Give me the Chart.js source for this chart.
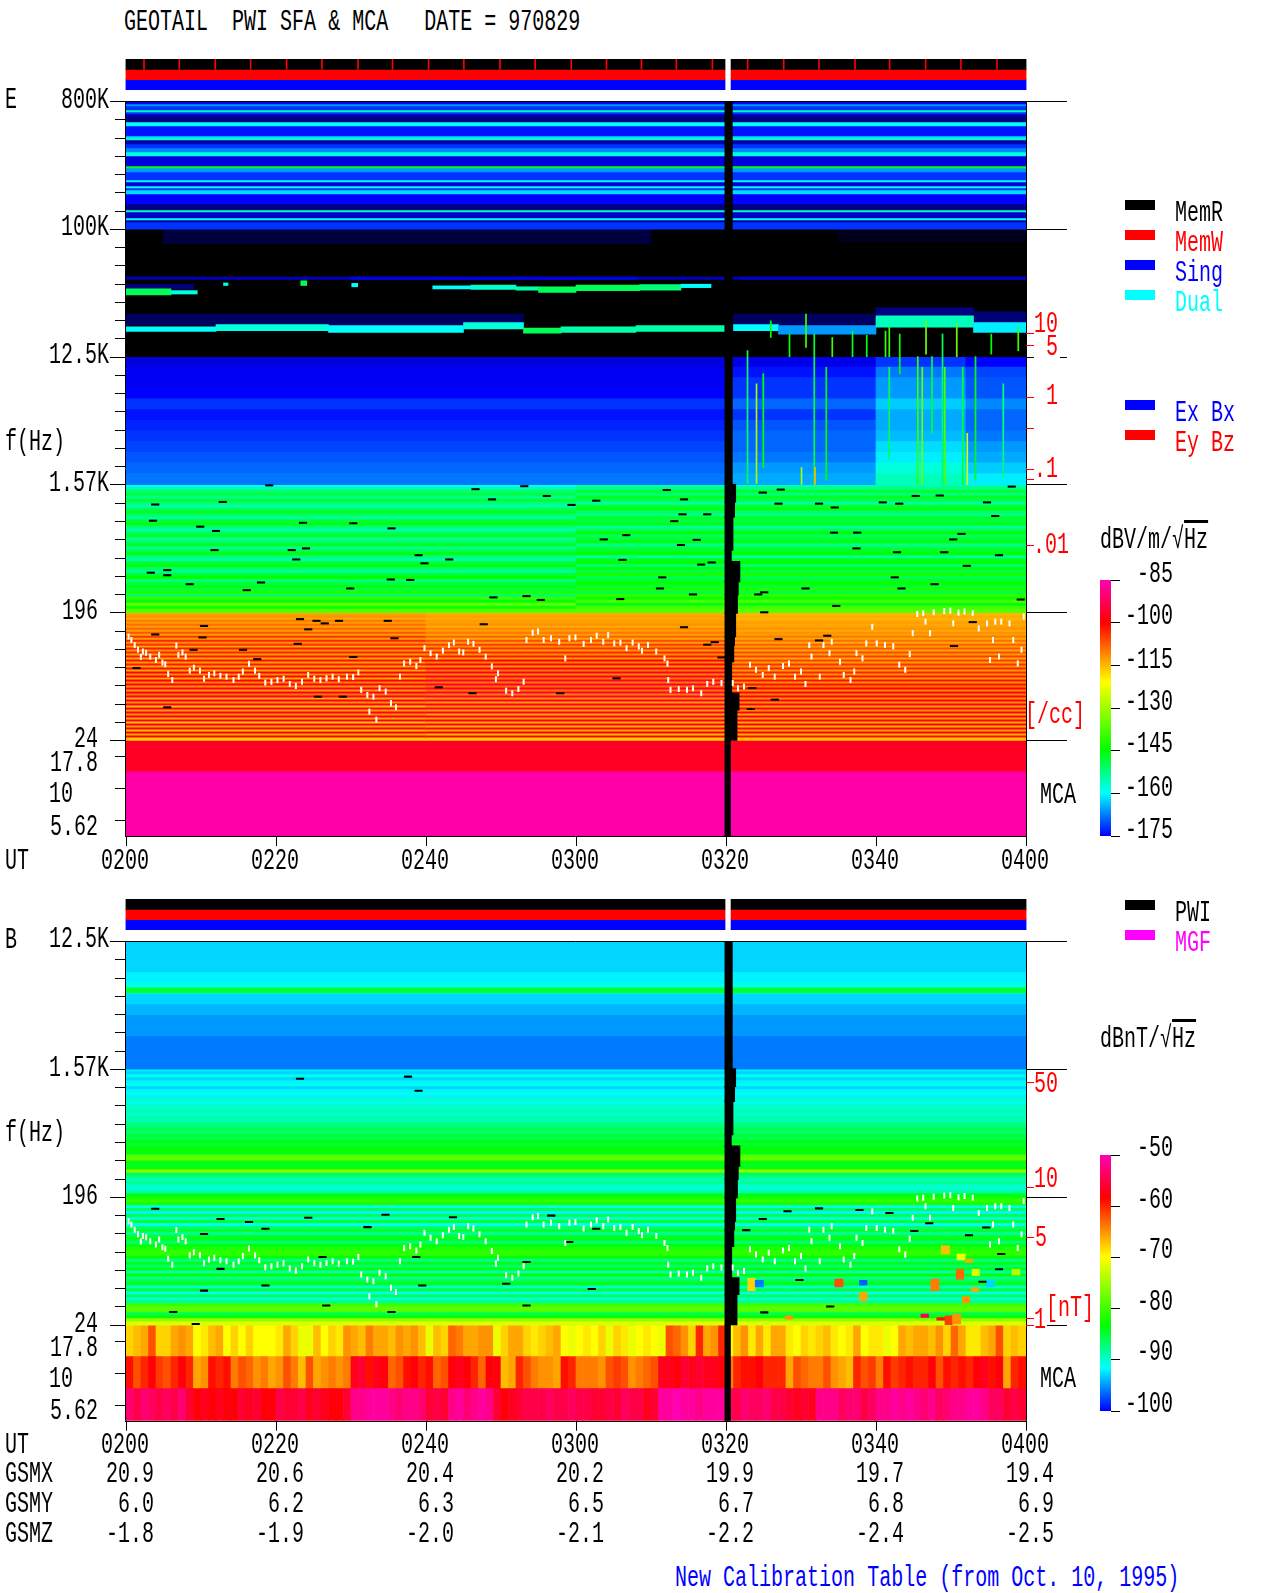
<!DOCTYPE html>
<html>
<head>
<meta charset="UTF-8">
<title>GEOTAIL PWI SFA & MCA 970829</title>
<script src="https://cdn.jsdelivr.net/npm/chart.js"></script>
<style>
  body { margin: 0; background: #fff; }
  #page { position: relative; width: 1280px; height: 1593px; overflow: hidden; }
  canvas { position: absolute; left: 0; }
  .t { position: absolute; font: 30px/30px "Liberation Mono", monospace; white-space: pre; z-index: 5; }
  .sw { position: absolute; width: 30px; height: 10px; }
  .over { text-decoration: overline; }
</style>
</head>
<body>
<div id="page"></div>
<script>
// y axis is in octaves below 800 kHz, 3 octaves per labelled band, MCA channels below 15
const utMinutes = [0, 20, 40, 60, 80, 100, 120];
const utLabels = ['0200', '0220', '0240', '0300', '0320', '0340', '0400'];
const gsmx = ['20.9', '20.6', '20.4', '20.2', '19.9', '19.7', '19.4'];
const gsmy = ['6.0', '6.2', '6.3', '6.5', '6.7', '6.8', '6.9'];
const gsmz = ['-1.8', '-1.9', '-2.0', '-2.1', '-2.2', '-2.4', '-2.5'];
const majorOct = [0, 3, 6, 9, 12, 15];
const mcaOct = [15.375, 16.125, 16.875];

const statusSpans = [[0, 79.85], [80.65, 120]];
const memrMarks = [2.4, 7.1, 11.9, 16.6, 21.4, 26.1, 30.9, 35.5, 40.3, 45, 49.8, 54.5, 59.3, 64, 68.65, 73.3, 78.1, 82.8, 87.6, 92.3, 97.1, 101.7, 106.5, 111.2, 116];

// density ticks, red
const eDensityOct = [5.44, 5.72, 6.94, 7.67, 8.63, 8.87, 10.43];
const bFieldOct = [9.3, 11.78, 12.95, 14.83, 15];

// E 800K-100K stripes
const eHighLevels = [-176, -176, -166, -172, -172, -155, -172, -180, -186, -186, -186, -160, -160, -174, -174, -174, -174, -174, -162, -156, -182, -182, -172, -172, -167, -167, -158, -158, -178, -178, -178, -178, -178, -146, -166, -166, -172, -172, -172, -172, -160, -178, -178, -160, -172, -162, -162, -175, -175, -175, -175, -175, -186, -186, -186, -156, -180, -180, -180, -160, -184, -172, -172, -172];

// E 100K-12.5K: t0, t1, top, bottom, level
const eMidPatches = [
  [0, 120, 3, 6, -200],
  [5, 70, 3.03, 3.35, -192], [95, 120, 3.03, 3.3, -195],
  [0, 120, 4.13, 4.19, -181], [30, 68, 4.13, 4.19, -177], [82, 120, 4.13, 4.19, -180],
  [0, 53, 5.0, 5.26, -189], [81, 100, 5.0, 5.26, -189], [100, 113, 4.85, 5.05, -186], [113, 120, 4.95, 5.2, -187],
  [0, 9, 4.31, 4.41, -186],
  [0, 6, 4.41, 4.55, -150], [6, 9.5, 4.45, 4.53, -158],
  [13, 13.6, 4.27, 4.33, -158], [23.3, 24.1, 4.22, 4.33, -150], [30.1, 30.9, 4.28, 4.36, -160],
  [40.9, 46, 4.34, 4.41, -160], [46, 52, 4.32, 4.42, -157], [52, 55, 4.36, 4.44, -155], [55, 60, 4.36, 4.49, -150],
  [60, 68.5, 4.32, 4.45, -150], [68.5, 74, 4.31, 4.44, -152], [74, 78, 4.3, 4.38, -160],
  [0, 12, 5.3, 5.41, -160], [12, 27, 5.25, 5.39, -158], [27, 45, 5.27, 5.43, -160], [45, 53, 5.2, 5.35, -158],
  [53, 58, 5.33, 5.45, -150], [58, 68, 5.3, 5.43, -155], [68, 79.8, 5.27, 5.41, -155], [81, 87, 5.25, 5.39, -160],
  [87, 100, 5.27, 5.47, -166], [100, 113, 5.04, 5.31, -156], [113, 120, 5.2, 5.43, -161]
];

// E 12.5K-1.57K, rows by time block
const eNoiseBlocks = [[0, 80], [80, 100], [100, 112], [112, 120]];
const eNoiseA = [-178, -176, -176, -175, -172, -174, -173, -172, -171, -170, -169, -168];
const eNoiseB = [-177, -174, -172, -172, -169, -172, -170, -169, -169, -168, -166, -165];
const eNoiseC = [-172, -168, -166, -166, -163, -165, -165, -164, -162, -161, -158, -156];
const eNoiseD = [-175, -171, -170, -170, -167, -169, -169, -168, -166, -165, -163, -161];

// spikes: time, top, bottom, level
const eSpikes = [
  [82.8, 5.86, 8.98, -150], [84, 6.64, 8.98, -130], [84.9, 6.4, 8.6, -145], [85.9, 5.16, 5.55, -145], [88.4, 5.47, 6, -145],
  [90.6, 5, 5.78, -140], [91.7, 5.47, 9, -148], [91.8, 8.6, 9, -115], [93.3, 6.25, 8.9, -145], [94.1, 5.55, 6, -140],
  [90, 8.6, 9, -130], [96.8, 5.4, 6, -148], [98.7, 5.5, 6, -145], [101.2, 5.4, 6, -140], [101.7, 5.31, 6, -140], [101.7, 6.25, 8.4, -150],
  [103.1, 5.47, 6.4, -145], [105.5, 6, 9, -140], [106.1, 6.25, 9, -135], [106.6, 5.16, 5.94, -135], [107.4, 6, 7.8, -148],
  [108.8, 5.47, 9, -150], [109.1, 6.25, 9, -138], [110.7, 5.23, 6, -135], [111.5, 6.25, 9, -148], [112.1, 7.8, 9, -125],
  [113.2, 6, 8.9, -145], [115.3, 5.47, 5.94, -145], [116.9, 6.64, 8.84, -152], [118.9, 5.31, 5.86, -140]
];

// E 1.57K-196
const eGreenLeft = [-160, -155, -152, -149, -153, -148, -152, -155, -150, -147, -151, -154, -148, -146, -152, -155, -150, -147, -154, -151, -147, -153, -150, -146, -152, -155, -148, -146, -151, -154, -148, -145, -152, -149, -146, -149, -142, -151, -140, -146, -136, -144, -137];
const eGreenRight = [-155, -153, -148, -152, -147, -150, -154, -148, -146, -151, -153, -147, -149, -146, -154, -150, -145, -151, -148, -146, -153, -149, -147, -145, -154, -147, -145, -151, -146, -149, -143, -150, -147, -144, -148, -142, -149, -141, -144, -138, -146, -139, -137];

// E 196-24, three time blocks
const eOrangeA = [-114, -113, -112, -114, -110, -113, -109, -113, -108, -113, -107, -113, -104, -113, -103, -112, -104, -114, -102, -112, -103, -113, -102, -114, -101, -113, -102, -113, -101, -114, -100, -112, -99, -114, -100, -111, -98, -112, -97, -113, -98, -110, -96, -114, -98, -112, -97, -116, -99, -113, -97, -112, -98, -114, -97, -116, -98, -113, -99, -116, -100, -114, -100, -117];
const eOrangeB = [-115, -114, -113, -114, -113, -113, -112, -114, -111, -113, -110, -113, -108, -114, -106, -113, -105, -112, -104, -113, -103, -112, -102, -113, -100, -111, -99, -112, -98, -110, -97, -111, -97, -110, -96, -110, -96, -109, -97, -110, -95, -111, -96, -112, -96, -113, -97, -112, -96, -113, -97, -114, -97, -113, -98, -114, -98, -115, -99, -114, -100, -116, -100, -117];
const eOrangeC = [-115, -115, -114, -115, -114, -113, -114, -113, -112, -114, -112, -113, -110, -114, -109, -114, -108, -113, -107, -114, -106, -113, -105, -114, -105, -113, -104, -112, -103, -113, -103, -112, -102, -113, -101, -112, -101, -110, -100, -112, -99, -111, -99, -112, -98, -112, -98, -113, -98, -112, -99, -114, -98, -113, -99, -114, -100, -115, -99, -113, -100, -115, -101, -116];

const eMcaLevels = [-97, -86, -86];

// E dropouts: time, oct
const eDropouts = [
  [3.9, 9.47], [12.9, 9.41], [19.1, 9.02], [24, 10.5], [35.3, 11.23], [23.6, 9.9], [3.6, 9.85], [9.9, 9.99], [12, 10.09], [11.8, 10.54], [22.1, 10.54], [22.7, 10.76],
  [3.3, 11.07], [5.5, 11.01], [5.5, 11.13], [8.5, 11.34], [16.1, 11.48], [18, 11.3], [29.9, 11.44], [30.3, 9.91], [35.4, 10.03], [37.9, 11.24], [39, 10.66], [39.8, 10.85],
  [43.1, 10.76], [48.8, 9.35], [46.6, 9.11], [53.1, 9.04], [56.1, 9.27], [59.4, 9.48], [62.7, 9.38], [63.7, 10.29], [66.7, 10.19], [66.2, 10.77], [53.4, 11.62], [49, 11.65],
  [55.3, 11.71], [65.9, 11.69], [23.2, 12.16], [25.4, 12.2], [26.5, 12.26], [28.4, 12.2], [34.9, 12.2], [10.4, 12.32], [3.9, 12.52], [10.2, 12.59], [24.3, 12.4], [1.4, 13.31],
  [9, 12.88], [15.6, 12.88], [22.9, 12.74], [35.8, 12.61], [30.3, 13.05], [17.5, 13.1], [47.7, 12.28], [41.7, 13.76], [46.2, 13.9], [57.9, 13.9], [65.4, 13.55], [5.5, 14.23],
  [25.6, 13.98], [28.9, 13.98], [72.1, 9.13], [74.4, 9.35], [74.2, 9.7], [77.5, 9.7], [73.1, 9.86], [76.1, 10.3], [74, 10.42], [78.1, 10.83], [76.7, 10.88], [71.5, 11.18],
  [71.2, 11.44], [75.6, 11.58], [84.9, 9.19], [87.3, 9.12], [87, 9.45], [92.4, 9.45], [94.5, 9.54], [100.9, 9.42], [103.1, 9.45], [105.3, 9.27], [108.5, 9.26], [118.1, 9.05],
  [114.8, 9.42], [115.9, 9.74], [94.4, 10.13], [97.5, 10.13], [111.4, 10.16], [110.3, 10.29], [97.4, 10.5], [102.8, 10.59], [109.1, 10.59], [116.4, 10.66], [112.1, 10.91],
  [102.5, 11.18], [107.8, 11.34], [103.4, 11.44], [90.6, 11.44], [84.3, 11.58], [85.1, 11.53], [94.7, 11.85], [119.3, 11.7], [85.1, 12], [74.4, 12.35], [78.5, 12.7], [77.5, 12.76],
  [87, 12.63], [92.4, 12.66], [93.5, 12.55], [79.4, 13.06], [112.9, 12.23], [110.4, 12.79], [83.5, 13.78], [86.5, 14.05], [83.3, 14.27]
];

// data gap, both panels: top, bottom, end time
const gapStart = 79.85;
const gapRows = [
  [-1, 9, 80.85], [9, 9.41, 81.3], [9.41, 9.76, 81.16], [9.76, 10.54, 80.94], [10.54, 10.81, 80.72], [10.81, 11.28, 81.86], [11.28, 11.59, 81.65],
  [11.59, 12.02, 81.54], [12.02, 12.57, 81.3], [12.57, 12.77, 81.16], [12.77, 13.16, 81.05], [13.16, 13.9, 80.77], [13.9, 14.29, 81.75], [14.29, 15, 81.48], [15, 17.3, 80.6]
];

// plasma line trace, both panels
const traceT = [0.34, 0.72, 1.16, 1.6, 2.25, 2.68, 1.98, 3.23, 3.99, 4.42, 4.86, 5.24, 5.62, 6.17, 6.71, 6.98, 7.53, 7.96, 8.5, 9.05, 9.86, 10.41, 11.06, 11.77, 12.58, 13.4, 14.33, 15.03, 15.58, 16.4, 17.21, 17.76, 18.57, 19.39, 20.2, 21.02, 21.84, 22.65, 23.47, 24.29, 25.1, 25.92, 26.74, 27.55, 28.37, 29.46, 30.28, 30.98, 31.36, 32.18, 32.99, 33.81, 34.63, 35.33, 35.99, 32.45, 33.38, 36.53, 37.08, 37.89, 38.71, 39.25, 39.8, 40.61, 41.43, 42.25, 43.06, 43.72, 44.42, 44.97, 45.62, 46.33, 47.14, 47.96, 48.78, 49.6, 49.32, 50.68, 51.5, 52.32, 53.02, 53.4, 54.22, 54.93, 55.69, 56.67, 57.76, 58.57, 59.12, 59.93, 61.02, 62, 62.76, 63.63, 64.29, 65.1, 65.92, 66.74, 67.55, 68.37, 68.8, 69.6, 70.7, 71.8, 72.2, 72.3, 72.6, 73.7, 74.8, 75.6, 76.7, 77.5, 78.3, 79.4, 80.9, 81.6, 82.4, 83.2, 84, 84.9, 85.7, 86.5, 87.6, 88.4, 89.2, 90, 90.6, 91.1, 91.4, 92.5, 93, 93.8, 94.1, 95.2, 95.7, 96.6, 97.1, 97.4, 98.2, 98.7, 99.5, 100.1, 101.2, 102.3, 103.1, 103.9, 104.5, 104.9, 105.5, 106.3, 107.7, 109.1, 109.9, 111, 111.8, 112.9, 106.6, 107.2, 110.3, 113.7, 114.8, 115.9, 115.6, 116.7, 117.8, 118.3, 119.4, 119.7, 115.2, 116.4, 118.9];
const traceOct = [12.57, 12.65, 12.77, 12.88, 12.92, 12.95, 13.05, 13.04, 13.12, 13, 13.18, 13.22, 13.45, 13.59, 12.78, 13, 12.94, 13.04, 13.37, 13.3, 13.37, 13.56, 13.47, 13.43, 13.49, 13.51, 13.59, 13.51, 13.39, 13.21, 13.37, 13.49, 13.65, 13.63, 13.59, 13.56, 13.68, 13.73, 13.63, 13.47, 13.56, 13.59, 13.55, 13.51, 13.57, 13.51, 13.52, 13.41, 13.82, 13.94, 13.98, 13.78, 13.86, 14.13, 14.23, 14.33, 14.52, 13.51, 13.2, 13.16, 13.26, 13.12, 12.84, 12.96, 13.04, 12.9, 12.77, 12.71, 12.92, 12.94, 12.69, 12.74, 12.88, 13.04, 13.27, 13.43, 13.57, 13.84, 13.9, 13.8, 13.63, 12.65, 12.48, 12.45, 12.65, 12.61, 12.69, 13.08, 12.61, 12.59, 12.74, 12.65, 12.55, 12.69, 12.53, 12.73, 12.71, 12.84, 12.71, 12.8, 12.9, 12.77, 12.92, 13.08, 13.2, 13.59, 13.82, 13.8, 13.82, 13.78, 13.9, 13.68, 13.63, 13.66, 13.66, 13.78, 13.74, 13.23, 13.35, 13.47, 13.31, 13.51, 13.26, 13.2, 13.51, 13.39, 13.68, 12.77, 13.04, 13.51, 12.77, 12.96, 12.69, 13.16, 13.47, 13.59, 13.39, 12.96, 13.08, 12.73, 12.34, 12.73, 12.77, 12.8, 13.23, 13.35, 12.98, 12.49, 12.04, 12.02, 12, 11.97, 11.96, 12.01, 11.98, 12.02, 12.22, 12.49, 12.26, 12.38, 12.26, 12.22, 12.65, 12.22, 12.26, 12.65, 12.88, 12.1, 13.12, 13.04, 13.2];

// B 12.5K-1.57K
const bNoise = [-93, -93, -93, -92, -91, -93, -94, -95, -95, -96, -96, -96];
const bLine = [0, 120, 7.1, 7.22, -85];
// B 1.57K-196
const bMid = [-92, -93, -91, -93, -92, -91, -93, -92, -91, -92, -90, -91, -90, -90, -89, -90, -89, -89, -88, -87, -86, -87, -85, -86, -84, -85, -84, -83, -84, -79, -78, -83, -85, -83, -76, -86, -88, -89, -88, -90, -90, -89, -84];
// B 196-24
const bLow = [-82, -81, -82, -91, -86, -92, -86, -90, -85, -91, -87, -85, -88, -85, -84, -87, -84, -82, -81, -81, -83, -88, -84, -87, -84, -89, -83, -88, -86, -84, -90, -85, -91, -86, -90, -88, -80, -79, -79, -86, -83, -76, -72];
// B hot cells: t0, t1, top, bottom, level
const bHotCells = [
  [108.7, 109.8, 13.15, 13.34, -67], [110.8, 111.9, 13.34, 13.48, -71], [111.9, 112.9, 13.46, 13.54, -66], [110.7, 111.7, 13.7, 13.93, -63],
  [94.5, 95.6, 13.93, 14.11, -62], [82.9, 83.9, 13.91, 14.2, -68], [107.3, 108.4, 13.93, 14.2, -64], [97.8, 98.8, 14.24, 14.44, -66],
  [111.5, 112.5, 14.34, 14.48, -65], [106, 107, 14.75, 14.83, -55], [108.1, 109.2, 14.83, 14.89, -59], [109.2, 110.2, 14.79, 15, -61],
  [110.2, 111.3, 14.75, 14.98, -65], [87.9, 88.9, 14.79, 14.87, -65], [112.8, 113.8, 13.7, 13.85, -72], [118.1, 119.2, 13.7, 13.83, -74],
  [112.7, 113.7, 14.13, 14.22, -66], [83.9, 85, 13.96, 14.11, -96], [97.8, 98.8, 13.96, 14.07, -97], [114.7, 115.8, 13.96, 14.11, -93]
];
const bDropouts = [
  [12.6, 12.52], [16.4, 12.59], [24.3, 12.49], [34.6, 12.42], [10.4, 12.87], [3.9, 12.28], [38.7, 13.41], [23.2, 9.23], [37.6, 9.18], [39, 9.51], [32.2, 12.71], [18.6, 12.75],
  [43.6, 12.48], [56.7, 12.44], [62.7, 12.75], [59.1, 13.06], [53.4, 13.53], [12.6, 13.69], [26.2, 13.41], [10.4, 14.2], [18.6, 14.08], [39.5, 14.08], [53.4, 14.55], [26.7, 14.55],
  [6.3, 14.7], [9.3, 14.98], [50.7, 14.04], [62.1, 14.16], [35.4, 14.7], [84.9, 12.52], [88.2, 12.34], [92.4, 12.27], [97.8, 12.31], [101.8, 12.38], [107.1, 12.62], [105.1, 12.8],
  [112.4, 12.9], [114.7, 12.72], [116.7, 13.34], [116.4, 13.7], [114.2, 13.99], [89.8, 13.95], [85.1, 14.71], [93.9, 14.57], [82.7, 12.78]
];
// B MCA channels, one value a minute
const bMca18 = [-68, -67, -66, -62, -68, -68, -66, -65, -66, -70, -69, -67, -66, -70, -68, -70, -68, -70, -70, -70, -69, -66, -68, -71, -71, -67, -70, -68, -69, -65, -66, -67, -64, -66, -66, -67, -65, -66, -65, -67,
  -71, -67, -68, -63, -64, -66, -66, -65, -65, -71, -68, -66, -66, -68, -69, -68, -67, -66, -70, -71, -70, -69, -70, -68, -71, -68, -69, -71, -70, -69, -70, -71, -62, -63, -65, -68, -60, -66, -65, -60,
  -70, -67, -65, -69, -66, -69, -66, -66, -69, -70, -68, -69, -68, -67, -69, -70, -69, -66, -70, -69, -69, -71, -70, -66, -67, -66, -66, -67, -65, -68, -63, -66, -69, -69, -67, -66, -62, -68, -67, -68];
const bMca10 = [-59, -62, -60, -58, -61, -62, -60, -58, -60, -66, -65, -59, -60, -59, -64, -62, -63, -65, -64, -66, -65, -62, -64, -67, -62, -66, -65, -64, -65, -64, -57, -56, -59, -57, -58, -63, -62, -59, -58, -60,
  -59, -63, -62, -58, -57, -58, -60, -63, -58, -58, -67, -66, -60, -62, -64, -65, -65, -66, -59, -60, -64, -64, -64, -65, -62, -61, -62, -65, -64, -63, -62, -57, -57, -58, -56, -57, -56, -57, -57, -58,
  -64, -60, -59, -59, -58, -60, -60, -60, -66, -62, -63, -64, -64, -62, -65, -66, -67, -60, -62, -61, -64, -59, -61, -60, -59, -60, -60, -58, -62, -59, -60, -59, -60, -58, -57, -59, -58, -66, -60, -59];
const bMca5 = [-53, -55, -53, -54, -55, -54, -55, -53, -56, -58, -57, -58, -57, -58, -58, -56, -57, -56, -58, -58, -55, -56, -56, -55, -57, -56, -57, -58, -58, -56, -52, -52, -51, -51, -51, -52, -53, -52, -52, -53,
  -56, -55, -56, -52, -51, -53, -52, -51, -52, -56, -58, -57, -56, -55, -55, -55, -54, -55, -55, -54, -55, -55, -56, -56, -55, -56, -54, -55, -55, -57, -56, -51, -51, -50, -51, -51, -52, -51, -51, -51,
  -54, -55, -53, -54, -54, -53, -55, -55, -56, -57, -56, -57, -52, -52, -52, -54, -53, -53, -55, -54, -52, -52, -51, -52, -51, -52, -53, -52, -54, -53, -52, -52, -51, -51, -52, -54, -54, -56, -55, -56];

const PX_PER_OCT = 128 / 3;
const E_RANGE = [-175, -85];
const B_RANGE = [-100, -50];
const colorStops = [[0, [0, 0, 255]], [0.167, [0, 255, 255]], [0.333, [0, 255, 0]], [0.6, [255, 255, 0]], [0.833, [255, 0, 0]], [1, [255, 0, 180]]];

function levelColor(v, range) {
  const f = (v - range[0]) / (range[1] - range[0]);
  if (f < 0) {
    const k = Math.max(0, 1 + f * 4);
    return `rgb(0,0,${Math.round(255 * k)})`;
  }
  for (let i = 1; i < colorStops.length; i++) {
    if (f <= colorStops[i][0]) {
      const [a, ca] = colorStops[i - 1], [b, cb] = colorStops[i];
      const k = (f - a) / (b - a);
      return `rgb(${ca.map((c, j) => Math.round(c + (cb[j] - c) * k)).join(',')})`;
    }
  }
  return 'rgb(255,0,180)';
}

const page = document.getElementById('page');

function put(text, x, y, color, align) {
  const s = document.createElement('span');
  s.className = 't';
  s.style.top = (y - 13) + 'px';
  s.style.color = color || '#000';
  if (align === 'r') {
    s.style.right = (1280 - x) + 'px';
    s.style.transformOrigin = 'right';
    s.style.transform = 'scaleX(.667)';
  } else if (align === 'c') {
    s.style.left = x + 'px';
    s.style.transform = 'translateX(-50%) scaleX(.667)';
  } else {
    s.style.left = x + 'px';
    s.style.transformOrigin = 'left';
    s.style.transform = 'scaleX(.667)';
  }
  s.innerHTML = text;
  page.appendChild(s);
}

function swatch(x, y, color) {
  const d = document.createElement('div');
  d.className = 'sw';
  d.style.left = x + 'px';
  d.style.top = y + 'px';
  d.style.background = color;
  page.appendChild(d);
}

function newCanvas(top, w, h, left) {
  const c = document.createElement('canvas');
  c.width = w;
  c.height = h;
  c.style.top = top + 'px';
  if (left) c.style.left = left + 'px';
  page.appendChild(c);
  return c;
}

function addRows(list, levels, a, b, t0, t1, range) {
  const h = (b - a) / levels.length;
  list.push({
    data: levels.map((v, i) => ({ x: [t0, t1], y: a + h * (i + 0.5) })),
    backgroundColor: levels.map(v => levelColor(v, range)),
    barThickness: h * PX_PER_OCT + 0.6,
    order: -list.length
  });
}

function addRect(list, p, range) {
  list.push({
    data: [{ x: [p[0], p[1]], y: (p[2] + p[3]) / 2 }],
    backgroundColor: levelColor(p[4], range),
    barThickness: (p[3] - p[2]) * PX_PER_OCT,
    order: -list.length
  });
}

function addDropouts(list, pts) {
  list.push({
    data: pts.map(p => ({ x: [p[0] - 0.5, p[0] + 0.5], y: p[1] })),
    backgroundColor: '#000',
    barThickness: 1.4,
    order: -list.length
  });
}

function addGap(list, lowest) {
  gapRows.forEach(g => {
    if (g[1] <= lowest) return;
    const top = Math.max(g[0], lowest);
    list.push({
      data: [{ x: [gapStart, g[2]], y: (top + g[1]) / 2 }],
      backgroundColor: '#000',
      barThickness: (g[1] - top) * PX_PER_OCT + 0.5,
      order: -list.length
    });
  });
}

function addTrace(list) {
  list.push({
    type: 'scatter',
    indexAxis: 'x',
    data: traceT.map((t, i) => ({ x: t, y: traceOct[i] })),
    pointStyle: 'line',
    rotation: 90,
    pointRadius: 3,
    borderColor: '#fff',
    pointBorderColor: '#fff',
    pointBorderWidth: 2,
    order: -list.length - 1
  });
}

const panelFrame = {
  id: 'panelFrame',
  afterDraw(chart, args, o) {
    const ctx = chart.ctx, { left, right, top, bottom } = chart.chartArea;
    const sx = chart.scales.x, sy = chart.scales.y;
    const seg = (x0, y0, x1, y1, color) => {
      ctx.strokeStyle = color || '#000';
      ctx.lineWidth = 1;
      ctx.beginPath();
      ctx.moveTo(x0, y0);
      ctx.lineTo(x1, y1);
      ctx.stroke();
    };
    const snap = v => Math.round(v) + 0.5;
    seg(left - 0.5, top, left - 0.5, bottom);
    seg(right + 0.5, top, right + 0.5, bottom);
    seg(left - 1, snap(top), right, snap(top));
    seg(left - 1, snap(bottom), right, snap(bottom));
    o.major.forEach(oct => {
      const y = snap(sy.getPixelForValue(oct));
      seg(110, y, left, y);
      if (o.rightGap && o.rightGap.oct === oct) {
        seg(right, y, o.rightGap.from, y);
        seg(o.rightGap.to, y, 1067, y);
      } else {
        seg(right, y, 1067, y);
      }
    });
    // 7 divisions in each band
    for (let k = 0; k <= 35; k++) {
      const oct = k * 3 / 7;
      if (oct < sy.min || k % 7 === 0) continue;
      const y = snap(sy.getPixelForValue(oct));
      seg(115, y, left, y);
    }
    mcaOct.forEach(oct => {
      const y = snap(sy.getPixelForValue(oct));
      seg(115, y, left, y);
    });
    o.red.forEach(oct => {
      const y = snap(sy.getPixelForValue(oct));
      seg(right, y, right + 8, y, '#f00');
    });
    utMinutes.forEach(m => {
      const x = snap(sx.getPixelForValue(m));
      seg(x, bottom, x, bottom + 10);
    });
  }
};

function makePanel(top, height, pad, octMin, datasets, frame) {
  const c = newCanvas(top, 1280, height);
  return new Chart(c, {
    type: 'bar',
    data: { datasets },
    plugins: [panelFrame],
    options: {
      indexAxis: 'y',
      responsive: false,
      animation: false,
      devicePixelRatio: 1,
      events: [],
      datasets: { bar: { grouped: false } },
      layout: { padding: { left: 126, right: 254, top: pad, bottom: height - pad - (17.25 - octMin) * PX_PER_OCT } },
      plugins: { legend: { display: false }, tooltip: { enabled: false }, panelFrame: frame },
      scales: {
        x: { type: 'linear', min: 0, max: 120, display: false, offset: false, grid: { offset: false } },
        y: { type: 'linear', min: octMin, max: 17.25, reverse: true, display: false, offset: false, grid: { offset: false } }
      }
    }
  });
}

function makeStatus(top, marks) {
  const rowsLab = ['MemR', 'MemW', 'Sing'];
  const colors = ['#000', '#f00', '#00f'];
  const datasets = [];
  if (marks) {
    datasets.push({ data: marks.map(m => ({ x: [m, m + 0.13], y: 'MemR' })), backgroundColor: '#f00', order: 0 });
  }
  rowsLab.forEach((r, i) => {
    datasets.push({ data: statusSpans.map(s => ({ x: s, y: r })), backgroundColor: colors[i], order: 1 });
  });
  return new Chart(newCanvas(top, 1280, 31), {
    type: 'bar',
    data: { labels: rowsLab, datasets },
    options: {
      indexAxis: 'y',
      responsive: false,
      animation: false,
      devicePixelRatio: 1,
      events: [],
      datasets: { bar: { categoryPercentage: 1, barPercentage: 1, grouped: false } },
      layout: { padding: { left: 125.5, right: 253.5, top: 0, bottom: 0 } },
      plugins: { legend: { display: false }, tooltip: { enabled: false } },
      scales: {
        x: { type: 'linear', min: 0, max: 120, display: false },
        y: { type: 'category', labels: rowsLab, display: false }
      }
    }
  });
}

function makeColorbar(top, h, range, step) {
  const levels = [];
  for (let v = range[0]; v < range[1]; v += (range[1] - range[0]) / 128) levels.push(v);
  return new Chart(newCanvas(top - 2, 20, h + 4, 1100), {
    type: 'bar',
    data: {
      datasets: [{
        data: levels.map(v => ({ x: [0, 1], y: v + (range[1] - range[0]) / 256 })),
        backgroundColor: levels.map(v => levelColor(v, range)),
        barThickness: h / 128 + 0.8
      }]
    },
    options: {
      indexAxis: 'y',
      responsive: false,
      animation: false,
      devicePixelRatio: 1,
      events: [],
      datasets: { bar: { grouped: false } },
      layout: { padding: { left: 0, right: 0, top: 2, bottom: 2 } },
      plugins: { legend: { display: false }, tooltip: { enabled: false } },
      scales: {
        x: { type: 'linear', min: 0, max: 1, display: false, offset: false },
        y: {
          type: 'linear', position: 'right', min: range[0], max: range[1], offset: false,
          ticks: { stepSize: step, display: false },
          border: { display: false },
          grid: { drawOnChartArea: false, tickLength: 9, tickColor: '#000', offset: false }
        }
      }
    }
  });
}

// E panel
const eSets = [];
addRows(eSets, eMcaLevels, 15, 17.25, 0, 120, E_RANGE);
[eOrangeA, eOrangeB, eOrangeC].forEach((lv, i) => addRows(eSets, lv, 12, 15, i * 40, (i + 1) * 40, E_RANGE));
addRows(eSets, eGreenLeft, 9, 12, 0, 60, E_RANGE);
addRows(eSets, eGreenRight, 9, 12, 60, 120, E_RANGE);
[eNoiseA, eNoiseB, eNoiseC, eNoiseD].forEach((lv, i) => addRows(eSets, lv, 6, 9, eNoiseBlocks[i][0], eNoiseBlocks[i][1], E_RANGE));
eMidPatches.forEach(p => addRect(eSets, p, E_RANGE));
addRows(eSets, eHighLevels, 0, 3, 0, 120, E_RANGE);
eSpikes.forEach(s => addRect(eSets, [s[0], s[0] + 0.14, s[1], s[2], s[3]], E_RANGE));
addDropouts(eSets, eDropouts);
addGap(eSets, 0);
addTrace(eSets);

// B panel
const bSets = [];
[bMca18, bMca10, bMca5].forEach((lv, c) => {
  bSets.push({
    data: lv.map((v, i) => ({ x: [i, i + 1], y: 15.375 + c * 0.75 })),
    backgroundColor: lv.map(v => levelColor(v, B_RANGE)),
    barThickness: 32.4,
    order: -bSets.length
  });
});
addRows(bSets, bLow, 12, 15, 0, 120, B_RANGE);
addRows(bSets, bMid, 9, 12, 0, 120, B_RANGE);
addRows(bSets, bNoise, 6, 9, 0, 120, B_RANGE);
addRect(bSets, bLine, B_RANGE);
bHotCells.forEach(p => addRect(bSets, p, B_RANGE));
addDropouts(bSets, bDropouts);
addGap(bSets, 6);
addTrace(bSets);

makeStatus(59, memrMarks);
makeStatus(899, null);
const eChart = makePanel(95, 760, 5, 0, eSets, { major: majorOct, red: eDensityOct, rightGap: { oct: 6, from: 1034, to: 1060 } });
const bChart = makePanel(935, 505, 5.7, 6, bSets, { major: majorOct.filter(m => m >= 6), red: bFieldOct, rightGap: { oct: 15, from: 1034, to: 1047 } });
makeColorbar(580, 256.5, E_RANGE, 15);
makeColorbar(1154.5, 256.5, B_RANGE, 10);

// text
put('GEOTAIL  PWI SFA &amp; MCA   DATE = 970829', 124, 20);

[['E', 98], ['f(Hz)', 440], ['UT', 859.3], ['B', 938.3], ['f(Hz)', 1130.7], ['UT', 1443.3], ['GSMX', 1471.7], ['GSMY', 1501.7], ['GSMZ', 1531.7]]
  .forEach(a => put(a[0], 4.5, a[1]));

[['800K', 0, 109.4, -3], ['100K', 3, 109.4, -4], ['12.5K', 6, 109.4, -4], ['1.57K', 9, 109.4, -3], ['196', 12, 98, -3], ['24', 15, 98, -3], ['17.8', 15.375, 98, 5], ['10', 16.125, 73.5, 4], ['5.62', 16.875, 98, 4.5]]
  .forEach(a => put(a[0], a[2], eChart.scales.y.getPixelForValue(a[1]) + 95 + a[3], '#000', 'r'));
[['12.5K', 6, 109.4, -4], ['1.57K', 9, 109.4, -3], ['196', 12, 98, -3], ['24', 15, 98, -3], ['17.8', 15.375, 98, 5], ['10', 16.125, 73.5, 4], ['5.62', 16.875, 98, 4.5]]
  .forEach(a => put(a[0], a[2], bChart.scales.y.getPixelForValue(a[1]) + 935 + a[3], '#000', 'r'));

utLabels.forEach((lab, i) => {
  const x = eChart.scales.x.getPixelForValue(utMinutes[i]);
  put(lab, x - 1, 859.3, '#000', 'c');
  put(lab, x - 1, 1443.3, '#000', 'c');
  put(gsmx[i], x + 28, 1471.7, '#000', 'r');
  put(gsmy[i], x + 28, 1501.7, '#000', 'r');
  put(gsmz[i], x + 28, 1531.7, '#000', 'r');
});

[['10', 1058, 321.7], ['5', 1058, 345], ['1', 1058, 394], ['.1', 1058, 466.7], ['.01', 1069.5, 543.3], ['[/cc]', 1085.5, 713.3],
 ['50', 1058, 1081.7], ['10', 1058, 1176.7], ['5', 1047, 1236], ['1', 1046, 1318.3], ['[nT]', 1094, 1306]]
  .forEach(a => put(a[0], a[1], a[2], '#f00', 'r'));
put('MCA', 1040, 793.3);
put('MCA', 1040, 1377.3);

[['MemR', '#000', 200], ['MemW', '#f00', 230], ['Sing', '#00f', 260], ['Dual', '#0ff', 290], ['Ex Bx', '#00f', 400], ['Ey Bz', '#f00', 430], ['PWI', '#000', 900], ['MGF', '#f0f', 930]]
  .forEach(a => {
    swatch(1125, a[2], a[1]);
    put(a[0], 1174.7, a[2] + 11, a[1]);
  });

put('dBV/m/√<span class="over">Hz</span>', 1100, 538.3);
put('dBnT/√<span class="over">Hz</span>', 1100, 1037.3);

[['-85', 572], ['-100', 614], ['-115', 658], ['-130', 700], ['-145', 742], ['-160', 785.7], ['-175', 828]]
  .forEach(a => put(a[0], 1172.6, a[1], '#000', 'r'));
[['-50', 1146], ['-60', 1197.7], ['-70', 1248.3], ['-80', 1300], ['-90', 1350], ['-100', 1401.7]]
  .forEach(a => put(a[0], 1172.6, a[1], '#000', 'r'));

put('New Calibration Table (from Oct. 10, 1995)', 674.7, 1576, '#00f');
</script>
</body>
</html>
